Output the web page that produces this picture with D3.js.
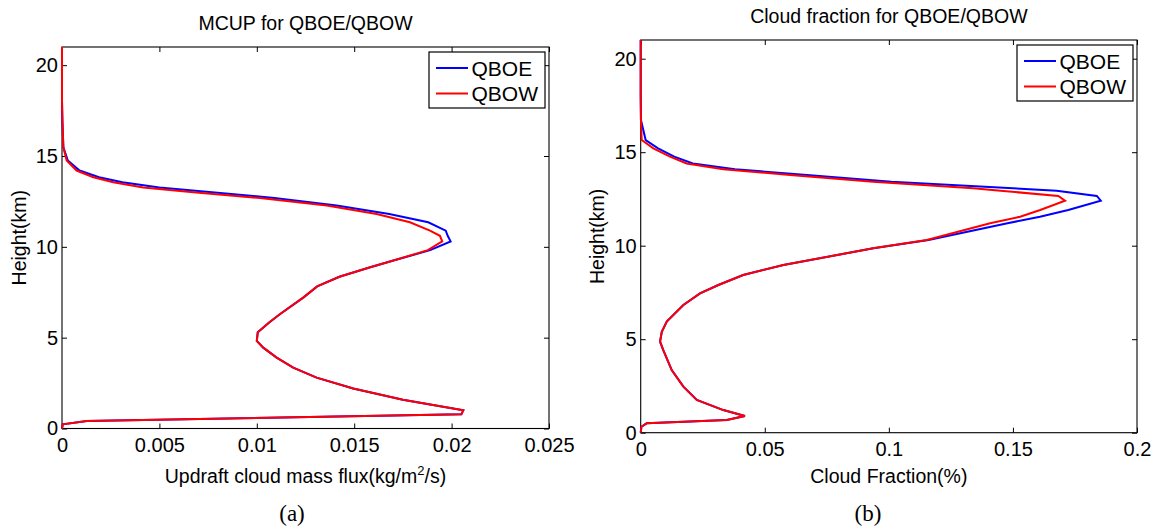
<!DOCTYPE html>
<html>
<head>
<meta charset="utf-8">
<script src="https://cdn.jsdelivr.net/npm/d3@7"></script>
<style>
  body { margin: 0; background: #fff; }
  svg { display: block; }
  text { font-family: "Liberation Sans", Arial, Helvetica, sans-serif; fill: #000; }
</style>
</head>
<body>
<svg id="fig" width="1164" height="527"></svg>
<script>
// ---- Panel (a): updraft cloud mass flux profiles (kg/m^2/s) vs height (km)
const mcupHeight = [0, 0.23, 0.41, 0.78, 1.0, 1.58, 2.2, 2.8, 3.35, 3.9, 4.45, 4.82, 5.3, 5.85, 6.3,
  7.22, 7.82, 8.35, 8.86, 9.23, 9.82, 10.3, 10.61, 10.89, 11.35, 11.81, 12.27, 12.69, 13.0, 13.27,
  13.55, 13.83, 14.2, 14.75, 15.48, 16.95, 18, 21];
const mcupQBOE = [0, 0.00004, 0.00127, 0.0205, 0.0206, 0.0175, 0.01495, 0.01307, 0.01187, 0.01102,
  0.01033, 0.0100, 0.01005, 0.01065, 0.0112, 0.0124, 0.0131, 0.01424, 0.01578, 0.01697, 0.0189,
  0.01995, 0.0198, 0.0197, 0.0188, 0.0168, 0.0141, 0.0109, 0.0077, 0.0050, 0.0031, 0.0019, 0.0009,
  0.0003, 0.00007, 0.00002, 0, 0];
const mcupQBOW = [0, 0.00004, 0.00127, 0.0205, 0.0206, 0.0175, 0.01495, 0.01307, 0.01187, 0.01102,
  0.01033, 0.0100, 0.01005, 0.01065, 0.0112, 0.0124, 0.0131, 0.01424, 0.01578, 0.01697, 0.01878,
  0.01952, 0.0194, 0.01889, 0.01786, 0.01615, 0.01359, 0.01016, 0.00674, 0.00417, 0.00263, 0.00161,
  0.00075, 0.00024, 0.00007, 0.00002, 0, 0];
const mcupTicks = [0, 0.005, 0.01, 0.015, 0.02, 0.025];

// ---- Panel (b): cloud fraction profiles vs height (km)
const cfHeight = [0, 0.32, 0.5, 0.68, 0.89, 1.21, 1.75, 2.46, 3.35, 4.42, 4.87, 5.4, 5.94, 6.83, 7.45,
  7.9, 8.43, 8.97, 9.86, 10.3, 11.2, 11.55, 11.91, 12.41, 12.66, 12.94, 13.07, 13.42, 13.78, 14.09,
  14.4, 14.76, 15.21, 15.65, 16.72, 18, 21];
const cfQBOE = [0, 0.0003, 0.0024, 0.0347, 0.0420, 0.0333, 0.0226, 0.0172, 0.0125, 0.0091, 0.0078,
  0.0085, 0.0105, 0.0172, 0.0239, 0.0313, 0.0413, 0.0575, 0.0937, 0.1160, 0.1478, 0.1609, 0.1723,
  0.1854, 0.1838, 0.1676, 0.150, 0.101, 0.067, 0.038, 0.021, 0.0135, 0.0070, 0.0020, 0.0001, 0, 0];
const cfQBOW = [0, 0.0003, 0.0024, 0.0347, 0.0420, 0.0333, 0.0226, 0.0172, 0.0125, 0.0091, 0.0078,
  0.0085, 0.0105, 0.0172, 0.0239, 0.0313, 0.0413, 0.0575, 0.0937, 0.1153, 0.1408, 0.1529, 0.161,
  0.171, 0.1683, 0.145, 0.134, 0.0937, 0.0602, 0.0333, 0.0185, 0.0118, 0.0051, 0.0004, 0.0001, 0, 0];
const cfTicks = [0, 0.05, 0.1, 0.15, 0.2];

const heightTicks = [0, 5, 10, 15, 20];
const seriesNames = ["QBOE", "QBOW"];
const seriesColors = ["#0000ff", "#ff0000"];

const svg = d3.select("#fig");
svg.append("rect").attr("width", 1164).attr("height", 527).attr("fill", "#fff");

const panels = [
  {
    title: "MCUP for QBOE/QBOW", titleY: 30,
    xlabel: ["Updraft cloud mass flux(kg/m", "2", "/s)"], ylabel: "Height(km)",
    tag: "(a)", tagX: 292,
    left: 62, right: 549, top: 47, bottom: 428.5,
    xMax: 0.025, xTicks: mcupTicks,
    height: mcupHeight, series: [mcupQBOE, mcupQBOW],
    ylabelX: 26
  },
  {
    title: "Cloud fraction for QBOE/QBOW", titleY: 23,
    xlabel: ["Cloud Fraction(%)"], ylabel: "Height(km)",
    tag: "(b)", tagX: 868,
    left: 640.7, right: 1137, top: 40, bottom: 432.7,
    xMax: 0.2, xTicks: cfTicks,
    height: cfHeight, series: [cfQBOE, cfQBOW],
    ylabelX: 604
  }
];

const TICK = 5;

function styleAxis(g) {
  g.attr("font-family", null).attr("font-size", null);
  g.select(".domain").remove();
  g.selectAll(".tick line").attr("stroke", "#000").attr("stroke-width", 1);
  g.selectAll(".tick text").attr("font-size", 20).attr("fill", "#000");
}

panels.forEach(p => {
  const x = d3.scaleLinear().domain([0, p.xMax]).range([p.left, p.right]);
  const y = d3.scaleLinear().domain([0, 21]).range([p.bottom, p.top]);
  const g = svg.append("g");
  const fmt = v => String(v);

  // axes with inward ticks on all four sides
  g.append("g").attr("transform", `translate(0,${p.bottom})`)
    .call(d3.axisBottom(x).tickValues(p.xTicks).tickFormat(fmt).tickSizeInner(-TICK).tickSizeOuter(0).tickPadding(9))
    .call(styleAxis);
  g.append("g").attr("transform", `translate(0,${p.top})`)
    .call(d3.axisTop(x).tickValues(p.xTicks).tickFormat("").tickSizeInner(-TICK).tickSizeOuter(0))
    .call(styleAxis);
  g.append("g").attr("transform", `translate(${p.left},0)`)
    .call(d3.axisLeft(y).tickValues(heightTicks).tickFormat(fmt).tickSizeInner(-TICK).tickSizeOuter(0).tickPadding(4))
    .call(styleAxis);
  g.append("g").attr("transform", `translate(${p.right},0)`)
    .call(d3.axisRight(y).tickValues(heightTicks).tickFormat("").tickSizeInner(-TICK).tickSizeOuter(0))
    .call(styleAxis);

  // plot box
  g.append("rect")
    .attr("x", p.left).attr("y", p.top)
    .attr("width", p.right - p.left).attr("height", p.bottom - p.top)
    .attr("fill", "none").attr("stroke", "#000").attr("stroke-width", 1.1);

  // profiles
  const line = d3.line()
    .x(d => x(d[0]))
    .y(d => y(d[1]));
  p.series.forEach((vals, i) => {
    const pts = vals.map((v, k) => [v, p.height[k]]);
    g.append("path")
      .datum(pts)
      .attr("d", line)
      .attr("fill", "none")
      .attr("stroke", seriesColors[i])
      .attr("stroke-width", 2)
      .attr("stroke-linejoin", "miter");
  });

  // legend
  const lw = 116, lh = 56;
  const lx = p.right - 4 - lw, ly = p.top + 5;
  const leg = g.append("g").attr("transform", `translate(${lx},${ly})`);
  leg.append("rect").attr("width", lw).attr("height", lh)
    .attr("fill", "#fff").attr("stroke", "#000").attr("stroke-width", 1.2);
  seriesNames.forEach((name, i) => {
    const yy = 16 + i * 25.5;
    leg.append("line").attr("x1", 7).attr("x2", 39).attr("y1", yy).attr("y2", yy)
      .attr("stroke", seriesColors[i]).attr("stroke-width", 2);
    leg.append("text").attr("x", 42.5).attr("y", yy + 7.5)
      .attr("font-size", 21).text(name);
  });

  // title
  g.append("text")
    .attr("x", (p.left + p.right) / 2).attr("y", p.titleY)
    .attr("text-anchor", "middle").attr("font-size", 19.5)
    .text(p.title);

  // x label (optional superscript)
  const xl = g.append("text")
    .attr("x", (p.left + p.right) / 2).attr("y", 483)
    .attr("text-anchor", "middle").attr("font-size", 19.5);
  xl.append("tspan").text(p.xlabel[0]);
  if (p.xlabel.length > 1) {
    xl.append("tspan").attr("font-size", 13).attr("dy", -8).text(p.xlabel[1]);
    xl.append("tspan").attr("dy", 8).text(p.xlabel[2]);
  }

  // y label
  g.append("text")
    .attr("transform", `translate(${p.ylabelX},${(p.top + p.bottom) / 2}) rotate(-90)`)
    .attr("text-anchor", "middle").attr("font-size", 19.5)
    .text(p.ylabel);

  // subfigure tag
  g.append("text")
    .attr("x", p.tagX).attr("y", 521)
    .attr("text-anchor", "middle")
    .attr("font-family", "'Liberation Serif', 'DejaVu Serif', serif")
    .style("font-family", "'Liberation Serif', 'DejaVu Serif', serif")
    .attr("font-size", 23)
    .text(p.tag);
});
</script>
</body>
</html>
